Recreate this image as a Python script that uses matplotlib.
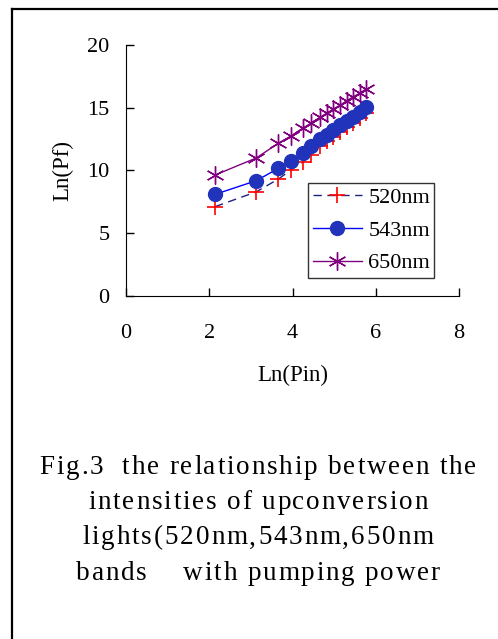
import matplotlib.pyplot as plt
from matplotlib.lines import Line2D
from matplotlib.font_manager import FontProperties

plt.rcParams['font.family'] = ['Liberation Serif', 'DejaVu Serif']

# Ln(Pin) values shared by the three bands
ln_pin = [2.14, 3.13, 3.66, 3.96, 4.24, 4.44, 4.66, 4.82, 4.98, 5.14, 5.30, 5.46, 5.61, 5.77]
ln_520 = [7.12, 8.30, 9.32, 10.04, 10.65, 11.24, 11.95, 12.35, 12.70, 13.10, 13.45, 13.82, 14.17, 14.58]
ln_543 = [8.10, 9.19, 10.17, 10.76, 11.37, 11.98, 12.50, 12.85, 13.20, 13.60, 13.95, 14.30, 14.65, 15.05]
ln_650 = [9.64, 11.00, 12.17, 12.75, 13.36, 13.76, 14.24, 14.56, 14.90, 15.20, 15.56, 15.88, 16.15, 16.50]

xticks = [0, 2, 4, 6, 8]
yticks = [0, 5, 10, 15, 20]

caption = ["Fig.3  the relationship between the",
           "intensities of upconversion",
           "lights(520nm,543nm,650nm",
           "bands    with pumping power"]

fig = plt.figure(figsize=(4.98, 6.39), dpi=100)
ax = fig.add_axes([0.253, 0.5368, 0.669, 0.3928])

ax.plot(ln_pin, ln_520, color='#202080', ls=(0, (6, 4)), lw=1, marker='+',
        ms=11, mec='#ff0000', mew=1.2, label='520nm')
ax.plot(ln_pin, ln_543, color='#0000ff', lw=1, marker='o', ms=10,
        mfc='#2233bb', mec='#2233bb', label='543nm')
ax.plot(ln_pin, ln_650, color='#800080', lw=1, marker=(6, 2, 0), ms=13,
        mec='#800080', mew=1, label='650nm')

ax.set_xlim(0, 8)
ax.set_ylim(0, 20)
ax.set_xticks(xticks)
ax.set_yticks(yticks)
ax.spines['top'].set_visible(False)
ax.spines['right'].set_visible(False)
ax.tick_params(direction='in', length=6, labelsize=16, width=1)
ax.tick_params(axis='x', pad=20)
ax.tick_params(axis='y', pad=12)
ax.set_xlabel('Ln(Pin)', fontsize=16.5, labelpad=16)
ax.set_ylabel('Ln(Pf)', fontsize=16.5, labelpad=10)

leg = ax.legend(loc='lower left', bbox_to_anchor=(0.547, 0.072), fontsize=16,
                frameon=True, fancybox=False, edgecolor='black',
                handlelength=2.2, handletextpad=0.3, borderaxespad=0,
                labelspacing=0.55, borderpad=0.2)
leg.get_frame().set_linewidth(1)

# caption with wide letter spacing
renderer = fig.canvas.get_renderer()
fp = FontProperties(family=['Liberation Serif'], size=19.5)
W, H = 498, 639
w0 = [renderer.get_text_width_height_descent(c, fp, ismath=False)[0] for c in caption[0]]
spacing = (437 - sum(w0)) / (len(caption[0]) - 1)
for i, line in enumerate(caption):
    widths = [renderer.get_text_width_height_descent(c, fp, ismath=False)[0] for c in line]
    total = sum(widths) + spacing * (len(line) - 1)
    x = 258 - total / 2
    y = 467 + 35.5 * i
    for c, w in zip(line, widths):
        fig.text(x / W, 1 - y / H, c, fontproperties=fp, va='center', ha='left')
        x += w + spacing

# outer frame (left and top)
fig.add_artist(Line2D([12 / W, 12 / W], [0, 1 - 9 / H], color='black', lw=1.6,
                      transform=fig.transFigure))
fig.add_artist(Line2D([12 / W, 1], [1 - 9 / H, 1 - 9 / H], color='black', lw=1.6,
                      transform=fig.transFigure))

fig.savefig('out.png', dpi=100)
